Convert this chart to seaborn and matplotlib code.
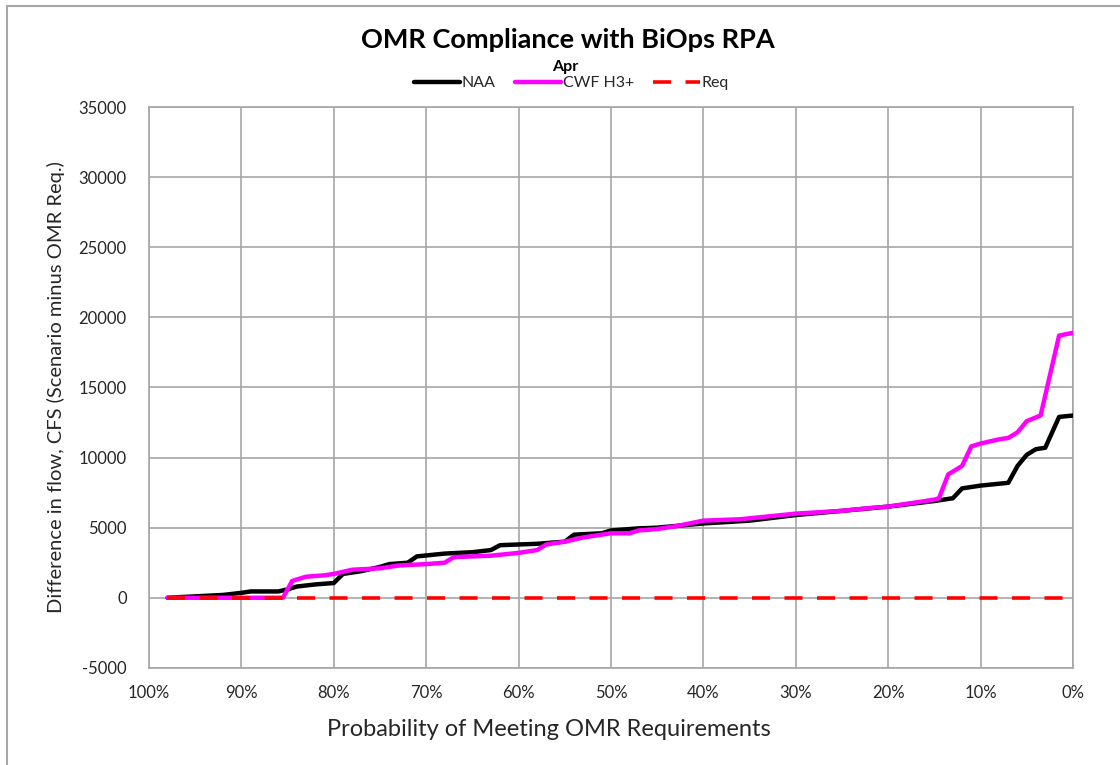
import matplotlib
matplotlib.use("Agg")
import matplotlib.pyplot as plt
import seaborn as sns
import pandas as pd
from matplotlib.lines import Line2D

sns.set_theme(style="white")
plt.rcParams['font.family'] = ['Lato', 'DejaVu Sans']
plt.rcParams['axes.unicode_minus'] = False

# Exceedance probability (%) and values
naa_x = [98, 95, 92, 90, 89, 86, 85, 84, 82, 80, 79, 77, 75, 74, 72, 71, 68, 65, 63, 62,
         58, 55, 54, 51, 50, 47, 45, 40, 35, 30, 25, 20, 15, 13, 12, 10, 7, 6, 5, 4, 3, 1.5, 0]
naa_y = [0, 100, 200, 350, 450, 450, 600, 800, 950, 1050, 1700, 1900, 2200, 2400, 2500, 2950,
         3150, 3250, 3400, 3750, 3850, 4000, 4500, 4600, 4800, 4950, 5000, 5300, 5500, 5900,
         6200, 6500, 6900, 7100, 7800, 8000, 8200, 9400, 10200, 10600, 10700, 12900, 13000]

cwf_x = [98, 85.5, 84.5, 83, 81, 80, 78, 75, 73, 70, 68, 67, 63, 60, 58, 57, 55, 53, 50, 48,
         47, 45, 43, 40, 36, 33, 30, 25, 22, 20, 17, 15, 14.5, 13.5, 12, 11, 10, 8, 7, 6, 5,
         3.5, 1.5, 0]
cwf_y = [0, 0, 1200, 1500, 1600, 1700, 2000, 2100, 2300, 2400, 2500, 2900, 3000, 3200, 3400,
         3800, 4000, 4300, 4600, 4600, 4800, 4900, 5100, 5500, 5600, 5800, 6000, 6200, 6400,
         6500, 6800, 7000, 7100, 8800, 9400, 10800, 11000, 11300, 11400, 11800, 12600, 13000,
         18700, 18900]

req_x = [98, 0]
req_y = [0, 0]

x_ticks = [100, 90, 80, 70, 60, 50, 40, 30, 20, 10, 0]
x_tick_labels = ["100%", "90%", "80%", "70%", "60%", "50%", "40%", "30%", "20%", "10%", "0%"]
y_ticks = [-5000, 0, 5000, 10000, 15000, 20000, 25000, 30000, 35000]

fig = plt.figure(figsize=(11.2, 7.65), dpi=100)
ax = fig.add_axes([0.133, 0.127, 0.825, 0.733])

df_naa = pd.DataFrame({"x": naa_x, "y": naa_y})
df_cwf = pd.DataFrame({"x": cwf_x, "y": cwf_y})
df_req = pd.DataFrame({"x": req_x, "y": req_y})

sns.lineplot(data=df_naa, x="x", y="y", ax=ax, color="black", lw=3.2, sort=False,
             estimator=None, zorder=3)
sns.lineplot(data=df_cwf, x="x", y="y", ax=ax, color="#ff00ff", lw=3.2, sort=False,
             estimator=None, zorder=4)
sns.lineplot(data=df_req, x="x", y="y", ax=ax, color="#ff0000", lw=2.6, sort=False,
             estimator=None, zorder=5)
ax.lines[-1].set_dashes([5, 4])

ax.set_xlim(100, 0)
ax.set_ylim(-5000, 35000)
ax.set_xticks(x_ticks)
ax.set_xticklabels(x_tick_labels)
ax.set_yticks(y_ticks)
ax.grid(True, color="#a6a6a6", lw=1.2)
ax.set_axisbelow(True)
for s in ax.spines.values():
    s.set_color("#a6a6a6")
    s.set_linewidth(1.2)
ax.tick_params(length=0, labelsize=12, colors="#262626")
ax.tick_params(axis="y", pad=16)
ax.tick_params(axis="x", pad=12)
ax.set_xlabel("")
ax.set_ylabel("Difference in flow, CFS (Scenario minus OMR Req.)", fontsize=14.5,
              color="#262626", labelpad=10)

fig.text(0.49, 0.047, "Probability of Meeting OMR Requirements", ha="center", va="center",
         fontsize=17, color="#262626")

fig.text(0.507, 0.948, "OMR Compliance with BiOps RPA", ha="center", va="center",
         fontsize=19.5, fontweight="bold", color="black")
fig.text(0.505, 0.913, "Apr", ha="center", va="center", fontsize=11.5, fontweight="bold",
         color="black")

handles = [Line2D([0], [0], color="black", lw=3.2),
           Line2D([0], [0], color="#ff00ff", lw=3.2),
           Line2D([0], [0], color="#ff0000", lw=2.6, dashes=[5, 4])]
fig.legend(handles, ["NAA", "CWF H3+", "Req"], loc="center", bbox_to_anchor=(0.51, 0.891),
           ncol=3, frameon=False, fontsize=11.5, handlelength=2.9, handletextpad=0.1,
           columnspacing=1.2, borderpad=0)

# outer frame (cropped on right and bottom)
fig.add_artist(Line2D([0.0063, 1.0], [0.992, 0.992], transform=fig.transFigure, color="#a6a6a6", lw=1.5))
fig.add_artist(Line2D([0.0063, 0.0063], [0.0, 0.992], transform=fig.transFigure, color="#a6a6a6", lw=1.5))

fig.savefig("out.png", dpi=100)
